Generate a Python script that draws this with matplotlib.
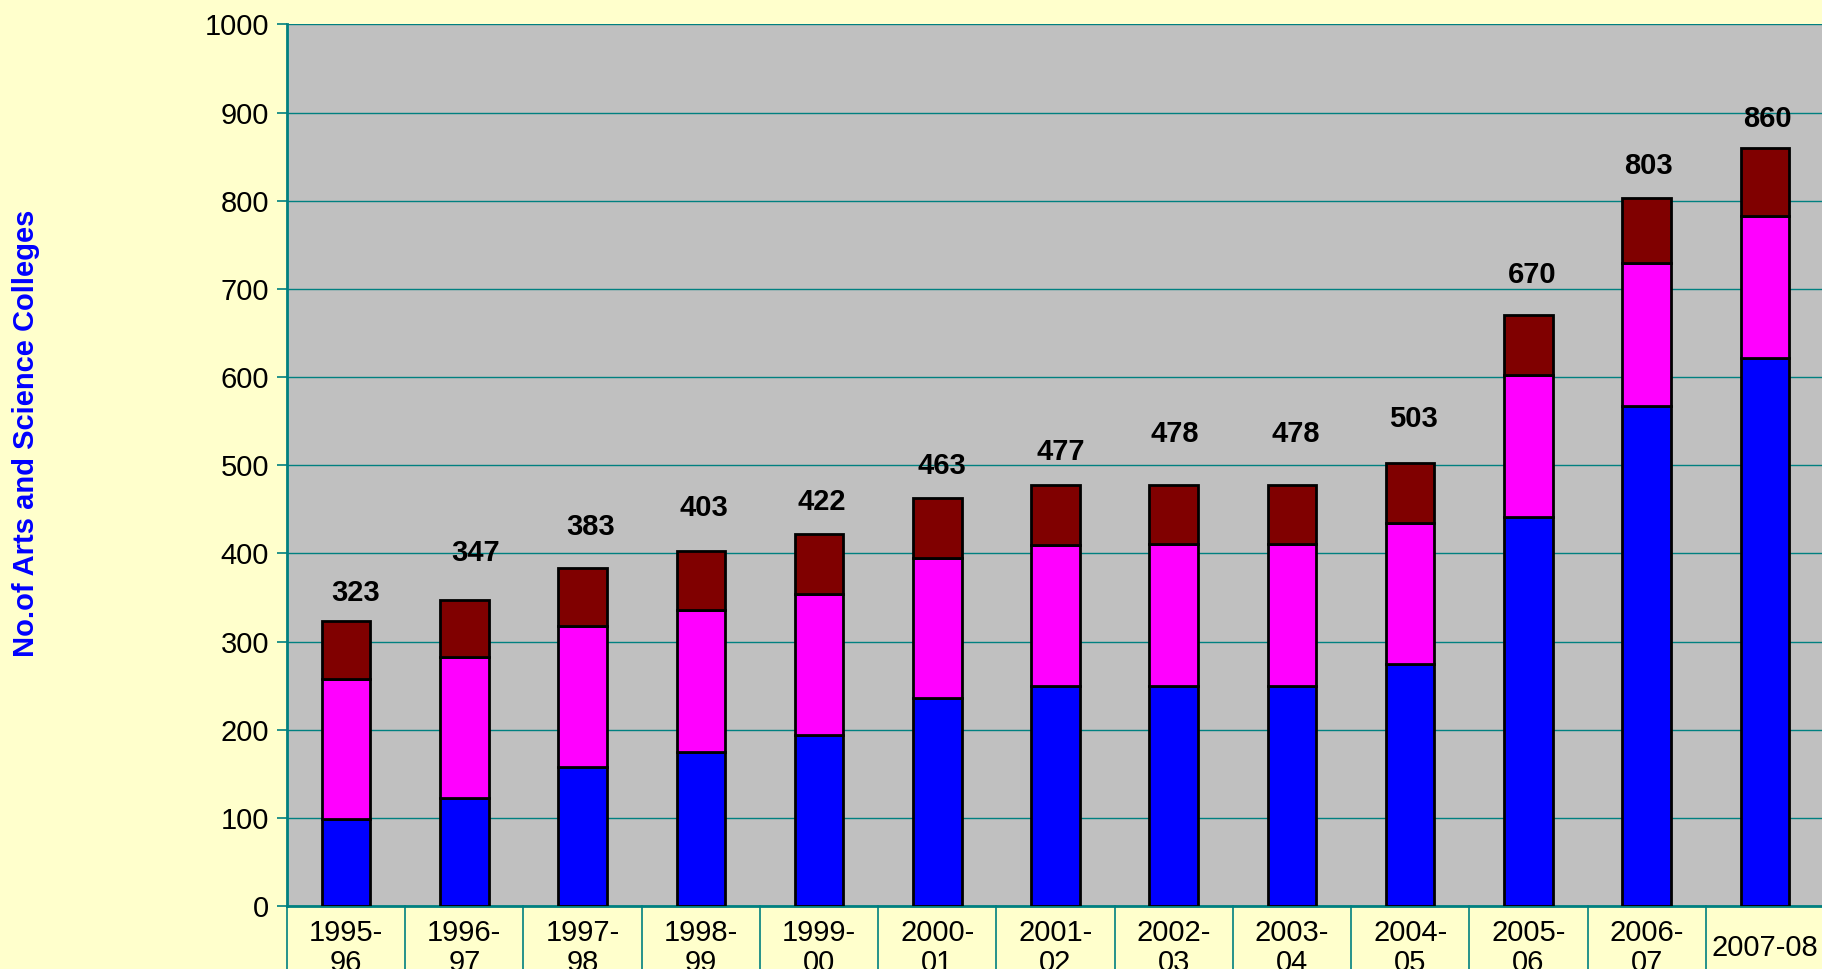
import matplotlib.pyplot as plt

years = ["1995-\n96", "1996-\n97", "1997-\n98", "1998-\n99", "1999-\n00",
         "2000-\n01", "2001-\n02", "2002-\n03", "2003-\n04", "2004-\n05",
         "2005-\n06", "2006-\n07", "2007-08"]
blue_vals = [99, 122, 158, 175, 194, 236, 249, 249, 249, 274, 441, 567, 622]
magenta_vals = [159, 160, 160, 161, 160, 159, 161, 162, 162, 161, 161, 162, 161]
maroon_vals = [65, 65, 65, 67, 68, 68, 67, 67, 67, 68, 68, 74, 77]
totals = [323, 347, 383, 403, 422, 463, 477, 478, 478, 503, 670, 803, 860]
y_ticks = list(range(0, 1001, 100))

# hand-placed total labels in the original (offsets in points)
label_dx = [7, 8, 6, 2, 2, 3, 4, 1, 3, 2, 3, 1, 2]
label_dy = [10, 24, 19.5, 20.5, 13, 13, 14, 26, 26, 21, 19, 13, 11]

plt.rcParams["font.family"] = ["Liberation Sans", "DejaVu Sans"]

teal = "#008080"
fig = plt.figure(figsize=(18.22, 9.69), dpi=100, facecolor="#FFFFCC")
ax = fig.add_axes([287 / 1822, 63 / 969, 1537 / 1822, (906 - 24.4) / 969])
ax.set_facecolor("#C0C0C0")

x = list(range(len(years)))
w = 0.41
bottom2 = [b + m for b, m in zip(blue_vals, magenta_vals)]
ax.bar(x, blue_vals, w, color="#0000FF", edgecolor="black", linewidth=2, zorder=3)
ax.bar(x, magenta_vals, w, bottom=blue_vals, color="#FF00FF", edgecolor="black", linewidth=2, zorder=3)
ax.bar(x, maroon_vals, w, bottom=bottom2, color="#800000", edgecolor="black", linewidth=2, zorder=3)

for i, t in enumerate(totals):
    ax.annotate(str(t), xy=(i, t), xytext=(label_dx[i], label_dy[i]), textcoords="offset points",
                ha="center", va="bottom", fontsize=21, fontweight="bold")

ax.set_xlim(-0.5, len(years) - 0.5)
ax.set_ylim(0, 1000)
ax.set_yticks(y_ticks)
ax.tick_params(axis="y", labelsize=21, color=teal, length=7, width=1.2, pad=6)
ax.set_xticks([])
ax.yaxis.grid(True, color=teal, linewidth=1, zorder=0)
ax.set_axisbelow(True)

for side in ["top", "right"]:
    ax.spines[side].set_visible(False)
ax.spines["left"].set_color(teal)
ax.spines["left"].set_linewidth(2)
ax.spines["bottom"].set_color(teal)
ax.spines["bottom"].set_linewidth(2)

# category cells under the axis
for b in range(len(years) + 1):
    ax.plot([b - 0.5, b - 0.5], [0, -120], color=teal, linewidth=1.2, clip_on=False)

for i, lab in enumerate(years):
    ax.annotate(lab, xy=(i, 0), xycoords=("data", "axes fraction"),
                xytext=(0, -30), textcoords="offset points",
                ha="center", va="center", fontsize=21, linespacing=1.1,
                multialignment="center")

fig.text(25.6 / 1822, 1 - 433 / 969, "No.of Arts and Science Colleges",
         rotation=90, ha="center", va="center", color="#0000FF",
         fontsize=21, fontweight="bold")

fig.savefig("out.png", dpi=100, facecolor=fig.get_facecolor())
